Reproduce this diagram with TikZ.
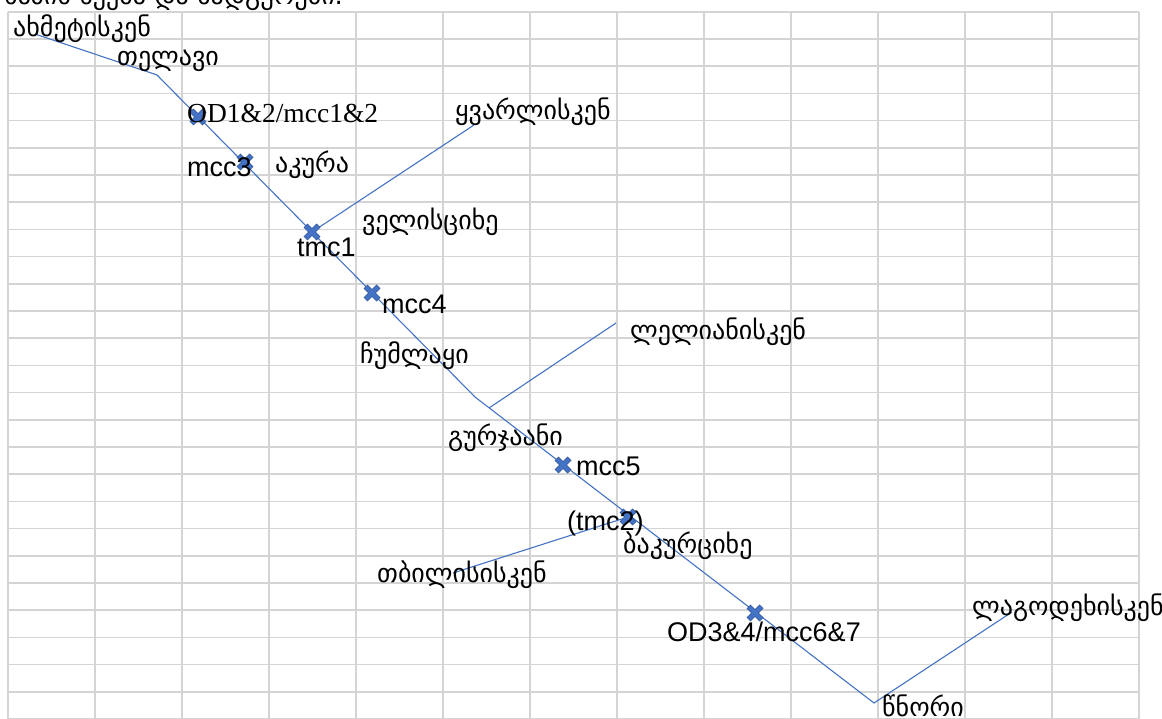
\documentclass[tikz,border=0pt]{standalone}
\usepackage{fontspec}
\setmainfont{Liberation Serif}
\setsansfont{Liberation Sans}
\newfontfamily\geo{DejaVu Sans}
\definecolor{gridgray}{HTML}{D4D4D4}
\definecolor{routeblue}{HTML}{4472C4}
\definecolor{markblue}{HTML}{4472C4}
\definecolor{markedge}{HTML}{2F5597}
\tikzset{
  gridline/.style={draw=gridgray, line width=1.6pt},
  route/.style={draw=routeblue, line width=1.1pt, line join=miter},
  geolabel/.style={anchor=base west, inner sep=0pt, font=\geo\fontsize{26}{26}\selectfont},
  latlabel/.style={anchor=base west, inner sep=0pt, font=\sffamily\fontsize{27}{27}\selectfont},
  serlabel/.style={anchor=base west, inner sep=0pt, font=\rmfamily\fontsize{27.5}{27.5}\selectfont},
  xmark/.pic={
    \draw[markedge, line width=5.6pt] (-6.5,-6.5) -- (6.5,6.5) (-6.5,6.5) -- (6.5,-6.5);
    \draw[markblue, line width=4pt] (-6,-6) -- (6,6) (-6,6) -- (6,-6);
  }
}
\begin{document}
\begin{tikzpicture}[x=1pt,y=-1pt]
\useasboundingbox (0,0) rectangle (1162,719);
\clip (0,0) rectangle (1162,719);
% grid
\foreach \i in {0,...,13} \draw[gridline] ({8+87*\i},11.8) -- ({8+87*\i},719);
\foreach \j in {0,...,26} \draw[gridline] (8,{11.8+27.2*\j}) -- (1139,{11.8+27.2*\j});
% route vertices
\coordinate (akh) at (35,34);
\coordinate (tel) at (157,75);
\coordinate (chu) at (475,397);
\coordinate (tsn) at (874,703);
\coordinate (lag) at (1012,612);
\coordinate (kva) at (474,125);
\coordinate (lel) at (616,323);
\coordinate (tbi) at (453,573);
\coordinate (gj) at (489,408);
% markers on the route
\coordinate (m1) at (198,117);
\coordinate (m2) at (245,162);
\coordinate (m3) at (312,232);
\coordinate (m4) at (372,293);
\coordinate (m5) at (563,465);
\coordinate (m6) at (628,517);
\coordinate (m7) at (755,613);
% connectors
\draw[route] (akh) -- (tel) -- (chu) -- (tsn) -- (lag);
\draw[route] (m3) -- (kva);
\draw[route] (gj) -- (lel);
\draw[route] (m6) -- (tbi);
% markers
\foreach \m in {m1,m2,m3,m4,m5,m6,m7} \pic at (\m) {xmark};
% labels
\node[geolabel] (title) at (4,5) {ხაზის სქემა და სადგურები.};
\node[geolabel] (lakh) at (13,37) {ახმეტისკენ};
\node[geolabel] (ltel) at (117,66) {თელავი};
\node[serlabel] (lod1) at (187,123) {OD1\&2/mcc1\&2};
\node[latlabel] (lmcc3) at (187,177) {mcc3};
\node[geolabel] (laku) at (275,173) {აკურა};
\node[geolabel] (lkva) at (455,120) {ყვარლისკენ};
\node[geolabel] (lvel) at (362,230) {ველისციხე};
\node[latlabel] (ltmc1) at (297,257) {tmc1};
\node[latlabel] (lmcc4) at (382,313) {mcc4};
\node[geolabel] (llel) at (630,340) {ლელიანისკენ};
\node[geolabel] (lchu) at (360,363) {ჩუმლაყი};
\node[geolabel] (lgur) at (448,445) {გურჯაანი};
\node[latlabel] (lmcc5) at (576,475) {mcc5};
\node[latlabel] (ltmc2) at (567,530) {(tmc2)};
\node[geolabel] (lbak) at (623,553) {ბაკურციხე};
\node[geolabel] (ltbi) at (377,582) {თბილისისკენ};
\node[latlabel] (lod3) at (667,641) {OD3\&4/mcc6\&7};
\node[geolabel] (llag) at (972,615) {ლაგოდეხისკენ};
\node[geolabel] (ltsn) at (882,716) {წნორი};
\end{tikzpicture}
\end{document}
